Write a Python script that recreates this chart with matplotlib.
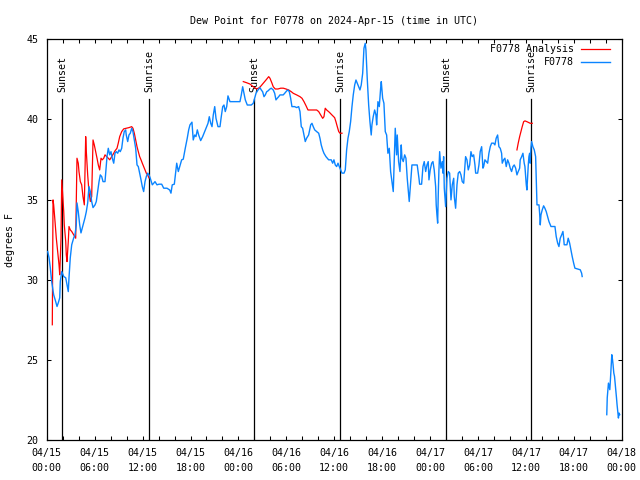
import matplotlib
matplotlib.use('Agg')
import matplotlib.pyplot as plt
import numpy as np
import pandas as pd

station = 'F0778'
start = pd.Timestamp('2024-04-15 00:00')

# observed dew point (hours after 04/15 00:00 UTC, deg F); nan = data gap
obs_hours = [
    0.11, 0.28, 0.44, 0.61, 0.86, 1.11, 1.28, 1.44, 1.62, 1.69, 1.87, 2.12, 2.37, 2.53, 2.69,
    2.78, 2.94, 3.12, 3.37, 3.53, 3.69, 3.78, 3.94, 4.12, 4.28, 4.45, 4.62, 4.78, 4.95, 5.12,
    5.28, 5.45, 5.62, 5.79, 6.04, 6.20, 6.37, 6.54, 6.70, 6.88, 7.04, 7.29, 7.45, 7.54, 7.70,
    7.88, 8.04, 8.20, 8.38, 8.54, 8.70, 8.88, 9.04, 9.20, 9.38, 9.54, 9.70, 9.88, 9.95, 10.13,
    10.29, 10.46, 10.63, 10.79, 10.96, 11.13, 11.30, 11.46, 11.63, 11.80, 11.96, 12.13, 12.30,
    12.46, 12.63, 12.80, 12.96, 13.21, 13.39, 13.55, 13.80, 14.05, 14.39, 14.64, 15.05, 15.39,
    15.55, 15.71, 15.97, 16.27, 16.47, 16.89, 17.09, 17.34, 17.59, 17.77, 17.93, 18.18, 18.34,
    18.52, 18.68, 18.85, 19.02, 19.27, 19.52, 19.77, 20.02, 20.19, 20.35, 20.53, 20.69, 20.85,
    21.03, 21.19, 21.44, 21.69, 21.85, 22.03, 22.19, 22.35, 22.53, 22.69, 22.94, 24.19, 24.36,
    24.53, 24.69, 24.86, 25.11, 25.61, 25.86, 26.20, 26.45, 26.70, 26.86, 27.03, 27.20, 27.36,
    27.54, 27.70, 27.95, 28.11, 28.36, 28.54, 28.70, 28.86, 29.04, 29.20, 29.61, 29.79, 30.04,
    30.20, 30.37, 30.54, 30.70, 31.04, 31.29, 31.54, 31.71, 31.87, 32.04, 32.21, 32.37, 32.54,
    32.79, 33.05, 33.21, 33.37, 33.55, 33.80, 34.05, 34.21, 34.37, 34.55, 34.71, 34.96, 35.30,
    35.62, 35.80, 35.96, 36.13, 36.30, 36.47, 36.63, 36.81, 36.97, 37.22, 37.38, 37.55, 37.72,
    37.88, 38.05, 38.22, 38.38, 38.56, 38.72, 38.88, 39.06, 39.22, 39.38, 39.56, 39.63, 39.72,
    39.88, 39.97, 40.13, 40.31, 40.47, 40.63, 40.72, 40.88, 41.06, 41.22, 41.31, 41.47, 41.64,
    41.81, 41.89, 42.06, 42.22, 42.39, 42.56, 42.72, 42.89, 43.06, 43.23, 43.39, 43.48, 43.64,
    43.81, 43.89, 44.06, 44.23, 44.39, 44.48, 44.64, 44.82, 44.98, 45.14, 45.32, 45.39, 45.57,
    45.73, 46.39, 46.61, 46.69, 46.94, 47.11, 47.27, 47.45, 47.61, 47.77, 47.86, 48.02, 48.20,
    48.36, 48.52, 48.70, 48.77, 48.86, 48.95, 49.03, 49.11, 49.20, 49.36, 49.53, 49.61, 49.70,
    49.78, 49.86, 49.95, 50.11, 50.28, 50.45, 50.53, 50.62, 50.78, 50.96, 51.03, 51.20, 51.37,
    51.53, 51.71, 51.87, 52.03, 52.21, 52.37, 52.45, 52.62, 52.78, 52.96, 53.12, 53.28, 53.46,
    53.62, 53.71, 53.96, 54.12, 54.28, 54.46, 54.62, 54.71, 54.87, 55.04, 55.21, 55.37, 55.54,
    55.71, 55.96, 56.12, 56.28, 56.46, 56.62, 56.79, 56.96, 57.04, 57.21, 57.37, 57.54, 57.71,
    57.88, 58.04, 58.21, 58.38, 58.54, 58.72, 58.88, 59.04, 59.22, 59.29, 59.47, 59.63, 59.79,
    59.88, 59.97, 60.05, 60.13, 60.22, 60.30, 60.38, 60.47, 60.54, 60.63, 60.72, 60.88, 61.05,
    61.22, 61.30, 61.39, 61.64, 61.72, 61.80, 61.89, 62.05, 62.22, 62.38, 62.55, 62.72, 62.89,
    63.14, 63.64, 63.80, 63.98, 64.14, 64.30, 64.48, 64.64, 64.73, 64.80, 65.14, 65.30, 65.48,
    65.64, 65.80, 65.98, 66.14, 66.81, 66.98, 67.05, 68.50, 70.13, 70.19, 70.34, 70.51, 70.60,
    70.76, 70.85, 70.92, 71.01, 71.10, 71.26, 71.35, 71.42, 71.51, 71.59, 71.67, 71.75,
]
obs_dewpt = [
    31.76, 31.37, 30.74, 29.89, 29.06, 28.64, 28.33, 28.56, 28.87, 29.89, 30.51, 30.20, 30.12, 29.68, 29.26,
    30.12, 31.37, 32.18, 32.61, 32.80, 33.42, 34.79, 34.25, 33.42, 32.92, 33.24, 33.55, 33.86, 34.25, 34.79,
    35.81, 35.50, 34.88, 34.50, 34.67, 34.88, 35.50, 36.12, 36.54, 36.43, 36.12, 36.12, 37.16, 37.68, 38.20,
    37.79, 37.99, 37.58, 37.27, 37.89, 37.99, 37.89, 38.10, 37.99, 38.20, 38.83, 39.24, 39.35, 39.03, 38.62,
    39.03, 39.14, 39.45, 39.24, 38.72, 38.20, 37.16, 37.06, 36.65, 36.23, 35.81, 35.50, 36.12,
    36.43, 36.65, 36.54, 36.33, 35.92, 36.02, 36.12, 35.92, 35.96, 35.96, 35.71, 35.71, 35.60,
    35.40, 35.92, 35.96, 37.27, 36.75, 37.48, 37.52, 38.20, 38.83, 39.35, 39.66, 39.83, 38.72,
    39.03, 38.93, 39.35, 39.03, 38.68, 38.93, 39.24, 39.55, 39.76, 40.17, 39.76, 39.55, 40.28,
    40.80, 40.07, 39.55, 39.55, 40.17, 40.80, 40.90, 40.49, 40.80, 41.47, 41.11, 41.11, 41.53,
    42.04, 41.63, 41.22, 40.90, 40.90, 41.01, 41.63, 41.84, 41.98, 41.84, 41.73, 41.42, 41.53,
    41.73, 41.78, 41.90, 41.95, 41.84, 41.63, 41.22, 41.32, 41.42, 41.53, 41.53, 41.63, 41.78,
    41.84, 41.73, 41.32, 40.80, 40.80, 40.74, 40.80, 40.49, 39.55, 39.45, 39.03, 38.62, 38.83,
    39.03, 39.66, 39.76, 39.55, 39.35, 39.24, 39.14, 38.83, 38.41, 38.10, 37.89, 37.68, 37.48,
    37.48, 37.27, 37.48, 37.16, 37.06, 37.27, 37.06, 36.85, 36.65, 36.65, 36.85, 38.10, 38.83,
    39.24, 39.86, 40.80, 41.53, 42.15, 42.46, 42.26, 42.04, 41.84, 42.15, 42.88, 43.60, 44.44,
    44.75, 44.33, 42.57, 40.90, 39.86, 39.03, 39.66, 40.17, 40.59, 40.28, 39.66, 41.11, 40.80,
    41.95, 42.36, 41.32, 41.01, 39.24, 39.03, 37.89, 38.20, 36.75, 36.12, 35.50, 36.96, 39.45,
    37.79, 39.03, 37.37, 36.75, 38.41, 37.58, 37.37, 37.79, 37.58, 36.33, 35.29, 34.88, 36.12,
    37.16, 37.16, 36.33, 35.96, 35.96, 37.06, 37.37, 36.75, 37.16, 37.37, 36.23, 36.85, 37.27,
    37.37, 36.85, 35.81, 34.67, 34.05, 33.53, 35.40, 36.85, 37.99, 36.96, 37.37, 36.65, 37.68,
    35.71, 35.19, 34.56, 36.33, 36.75, 36.65, 35.81, 34.98, 35.92, 36.33, 35.19, 34.46, 35.92,
    36.65, 36.75, 36.54, 36.12, 36.02, 37.16, 37.68, 37.48, 36.85, 37.16, 37.99, 37.68, 37.79,
    37.16, 36.65, 36.65, 37.16, 37.99, 38.30, 36.96, 37.06, 37.48, 37.37, 37.27, 37.89, 38.30,
    38.52, 38.52, 38.41, 38.83, 39.03, 38.30, 38.20, 37.89, 37.27, 37.48, 37.58, 37.06, 37.48,
    37.27, 36.96, 36.75, 37.06, 37.16, 36.96, 36.54, 36.75, 36.96, 37.48, 37.68, 37.89, 37.27,
    37.06, 36.43, 35.92, 35.60, 36.43, 37.16, 37.68, 37.89, 37.27, 38.20, 38.62, 38.30, 38.10,
    37.68, 36.23, 34.67, 34.67, 34.15, 33.42, 34.05, 34.36, 34.61, 34.46, 34.25, 33.94, 33.63,
    33.32, 33.32, 32.69, 32.28, 32.07, 32.59, 32.80, 33.01, 32.59, 32.18, 32.18, 32.59, 32.28,
    31.86, 31.45, 31.04, 30.72, 30.62, 30.41, 30.20, np.nan, 21.58, 22.64, 23.55, 23.14, 23.87,
    25.32, 25.01, 24.69, 24.18, 23.97, 23.14, 22.62, 22.20, 21.78, 21.37, 21.68, 21.58,
]

# analysis dew point
ana_hours = [
    0.69, 0.78, 0.86, 1.03, 1.19, 1.36, 1.53, 1.62, 1.69, 1.78, 1.87, 2.03, 2.12, 2.19, 2.37,
    2.44, 2.53, 2.69, 2.78, 2.94, 3.12, 3.37, 3.62, 3.78, 3.94, 4.03, 4.20, 4.37, 4.53, 4.70,
    4.87, 4.95, 5.12, 5.28, 5.45, 5.62, 5.79, 5.95, 6.12, 6.29, 6.45, 6.62, 6.79, 6.95, 7.13,
    7.29, 7.70, 7.88, 8.13, 8.38, 8.54, 8.79, 8.95, 9.13, 9.38, 9.63, 9.95, 10.29, 10.63, 10.79,
    10.96, 11.13, 11.30, 11.46, 11.63, 11.80, 11.96, 12.13, 12.30, 12.46, 12.63, 12.80, 18.00,
    24.61, 25.03, 25.44, 25.86, 26.28, 26.61, 26.86, 27.11, 27.45, 27.79, 27.95, 28.20, 28.36,
    28.61, 28.95, 29.29, 29.62, 29.95, 30.29, 30.62, 30.87, 31.29, 31.71, 31.96, 32.21, 32.46,
    32.71, 33.80, 34.05, 34.30, 34.55, 34.71, 34.87, 35.05, 35.38, 35.71, 36.05, 36.21, 36.38,
    36.56, 36.72, 36.97, 48.00, 58.88, 59.04, 59.22, 59.38, 59.54, 59.72, 59.88, 60.13, 60.38,
    60.54, 60.80,
]
ana_dewpt = [
    27.19, 34.98, 34.67, 33.63, 32.59, 31.76, 30.93, 30.31, 31.35, 32.59, 36.23, 34.98, 34.25, 33.42, 32.38,
    31.55, 31.13, 32.38, 33.32, 33.11, 33.01, 32.80, 32.59, 37.58, 37.27, 36.75, 36.12, 35.92, 35.19, 34.67,
    38.93, 37.99, 36.54, 35.50, 34.88, 35.19, 38.72, 38.41, 37.99, 37.58, 37.16, 36.85, 37.58, 37.48, 37.58,
    37.79, 37.58, 37.48, 37.68, 37.89, 38.04, 38.20, 38.52, 38.93, 39.24, 39.41, 39.45, 39.49, 39.55, 39.45,
    39.14, 38.72, 38.30, 37.99, 37.68, 37.48, 37.27, 37.06, 36.85, 36.65, 36.54, 36.35, np.nan,
    42.36, 42.29, 42.21, 42.04, 41.90, 41.98, 42.11, 42.26, 42.46, 42.67, 42.57, 42.26, 42.04,
    41.90, 41.90, 41.95, 41.95, 41.90, 41.84, 41.73, 41.63, 41.53, 41.42, 41.32, 41.11, 40.86,
    40.59, 40.59, 40.49, 40.28, 40.07, 40.17, 40.70, 40.59, 40.45, 40.28, 40.11, 39.86, 39.55,
    39.24, 39.14, 39.14, np.nan, 38.10, 38.52, 38.93, 39.24, 39.55, 39.86, 39.91, 39.86, 39.80,
    39.76, 39.76,
]

sun_names = ['Sunset', 'Sunrise', 'Sunset', 'Sunrise', 'Sunset', 'Sunrise']
sun_hours = [1.93, 12.80, 25.97, 36.75, 50.02, 60.68]


def to_time(hours):
    return start + pd.to_timedelta(np.array(hours, dtype=float), unit='h')


plt.rcParams['font.family'] = 'DejaVu Sans Mono'
plt.rcParams['font.size'] = 7.2

fig = plt.figure(figsize=(6.4, 4.8), dpi=100)
ax = fig.add_axes([46.8 / 640, 40 / 480, 574.9 / 640, 400.7 / 480])

# sunrise / sunset markers
for name, t in zip(sun_names, to_time(sun_hours)):
    ax.plot([t, t], [20, 41.26], color='black', lw=0.9, zorder=1)
    ax.text(t, 41.7, name, rotation=90, ha='center', va='bottom', zorder=1)

ax.plot(to_time(ana_hours), ana_dewpt, color='#ff0000', lw=0.9, label=station + ' Analysis', zorder=2)
ax.plot(to_time(obs_hours), obs_dewpt, color='#0a84ff', lw=1.0, label=station, zorder=3)

ax.set_xlim(start, start + pd.Timedelta(hours=72))
ax.set_ylim(20, 45)

major = pd.date_range(start, start + pd.Timedelta(hours=72), freq='6h')
minor = pd.date_range(start, start + pd.Timedelta(hours=72), freq='2h')
ax.set_xticks(major, [t.strftime('%m/%d\n%H:%M') for t in major])
for lab in ax.get_xticklabels():
    lab.set_linespacing(1.55)
ax.set_xticks(minor, minor=True)
ax.set_yticks(range(20, 46, 5))

ax.tick_params(which='both', direction='in', top=True, right=True, length=3, width=0.75)
ax.tick_params(axis='x', pad=6)
ax.tick_params(axis='y', pad=6)
for sp in ax.spines.values():
    sp.set_linewidth(0.9)

ax.set_title('Dew Point for %s on 2024-Apr-15 (time in UTC)' % station, fontsize=7.2, pad=11)
ax.set_ylabel('degrees F', labelpad=8)

ax.legend(loc='upper right', bbox_to_anchor=(0.98, 0.988), frameon=False, markerfirst=False,
          borderpad=0, borderaxespad=0, handlelength=2.9, handletextpad=0.7, labelspacing=0.3)

fig.savefig('out.png', dpi=100)
